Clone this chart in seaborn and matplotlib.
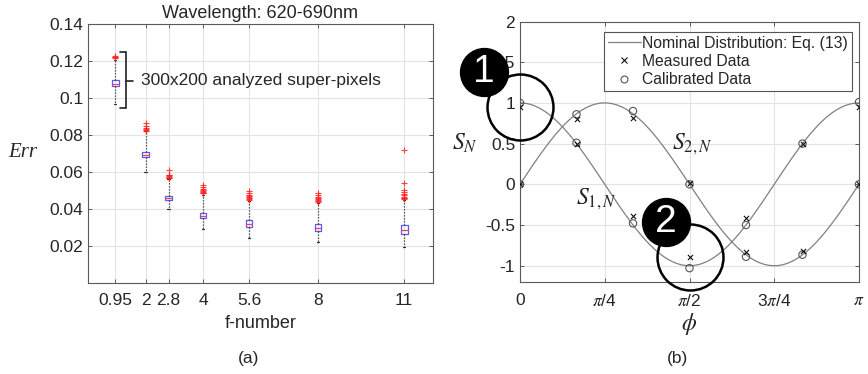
import numpy as np
import pandas as pd
import matplotlib
matplotlib.use("Agg")
import matplotlib.pyplot as plt
import matplotlib.transforms as mtransforms
from matplotlib.lines import Line2D
import seaborn as sns

# ---------------- (a) reconstruction error vs f-number ----------------
f_numbers = [0.95, 2, 2.8, 4, 5.6, 8, 11]
f_labels = ["0.95", "2", "2.8", "4", "5.6", "8", "11"]
err_whislo = [0.0966, 0.0598, 0.0400, 0.0294, 0.0245, 0.0222, 0.0196]
err_q1 = [0.1063, 0.0680, 0.0447, 0.0350, 0.0303, 0.0281, 0.0265]
err_median = [0.1075, 0.0692, 0.0458, 0.0364, 0.0319, 0.0299, 0.0286]
err_q3 = [0.1100, 0.0710, 0.0472, 0.0378, 0.0339, 0.0320, 0.0314]
err_whishi = [0.1205, 0.0820, 0.0562, 0.0478, 0.0445, 0.0435, 0.0448]
err_outliers = [
    [0.1215, 0.1220, 0.1224, 0.1228],
    [0.0824, 0.0828, 0.0832, 0.0836, 0.0849, 0.0866],
    [0.0566, 0.0570, 0.0574, 0.0578, 0.0582, 0.0586, 0.0610],
    [0.0484, 0.0489, 0.0494, 0.0499, 0.0504, 0.0510, 0.0518, 0.0528],
    [0.0450, 0.0455, 0.0460, 0.0465, 0.0470, 0.0476, 0.0484, 0.0495],
    [0.0440, 0.0445, 0.0450, 0.0455, 0.0461, 0.0467, 0.0474, 0.0484],
    [0.0452, 0.0457, 0.0462, 0.0467, 0.0473, 0.0480, 0.0490, 0.0503, 0.0539, 0.0719],
]
err_ticks = [0.02, 0.04, 0.06, 0.08, 0.10, 0.12, 0.14]
err_tick_labels = ["0.02", "0.04", "0.06", "0.08", "0.1", "0.12", "0.14"]

# ---------------- (b) normalized Stokes parameters vs phi ----------------
phi_samples = np.pi * np.array([0, 1, 2, 3, 4, 5, 6]) / 6
s1_measured = [0.95, 0.50, -0.39, -0.89, -0.41, 0.50, 0.95]
s1_calibrated = [1.00, 0.51, -0.48, -1.03, -0.50, 0.50, 1.01]
s2_measured = [0.00, 0.80, 0.82, 0.02, -0.835, -0.816, 0.00]
s2_calibrated = [0.00, 0.86, 0.90, 0.00, -0.89, -0.865, 0.00]
phi_ticks = [0, np.pi / 4, np.pi / 2, 3 * np.pi / 4, np.pi]
phi_tick_labels = ["0", r"$\pi$/4", r"$\pi$/2", r"3$\pi$/4", r"$\pi$"]
s_ticks = [-1, -0.5, 0, 0.5, 1, 1.5, 2]
s_tick_labels = ["-1", "-0.5", "0", "0.5", "1", "1.5", "2"]

# nominal distribution, Eq. (13)
phi_curve = np.linspace(0, np.pi, 400)
nominal = pd.DataFrame({"phi": phi_curve,
                        "S1": np.cos(2 * phi_curve),
                        "S2": np.sin(2 * phi_curve)})

sns.set_theme(style="whitegrid")
plt.rcParams["font.family"] = ["Liberation Sans", "DejaVu Sans"]
plt.rcParams["mathtext.fontset"] = "stix"
plt.rcParams["axes.unicode_minus"] = False

TXT = "#262626"
SPINE = "#5a5a5a"
GRID = "#e3e3e3"

fig = plt.figure(figsize=(8.68, 3.74), dpi=100)
ax_a = fig.add_axes([88 / 868, 1 - 283 / 374, 345 / 868, 259 / 374])
ax_b = fig.add_axes([520 / 868, 1 - 282 / 374, 339 / 868, 260.5 / 374])

for ax in (ax_a, ax_b):
    ax.set_facecolor("white")
    ax.grid(True, color=GRID, lw=0.8)
    for sp in ax.spines.values():
        sp.set_visible(True)
        sp.set_color(SPINE)
        sp.set_linewidth(0.8)
    ax.tick_params(direction="in", length=3, width=0.7, color=SPINE,
                   labelcolor=TXT, top=True, right=True, bottom=True, left=True,
                   labeltop=False, labelright=False)
    ax.tick_params(axis="y", pad=3.5)

# ---- panel (a) ----
stats = []
for i in range(len(f_numbers)):
    stats.append(dict(med=err_median[i], q1=err_q1[i], q3=err_q3[i],
                      whislo=err_whislo[i], whishi=err_whishi[i],
                      fliers=err_outliers[i], label=f_labels[i]))
ax_a.bxp(stats, positions=f_numbers, widths=0.24, capwidths=0.07,
         showfliers=True, manage_ticks=False, patch_artist=False,
         boxprops=dict(color="#5a5aff", lw=0.9),
         medianprops=dict(color="#ff4040", lw=0.9),
         whiskerprops=dict(color="#333333", ls=(0, (1, 1.4)), lw=0.9),
         capprops=dict(color="#333333", lw=0.9),
         flierprops=dict(marker="+", markeredgecolor="#ff2020",
                         markersize=5, mew=0.8, alpha=0.85))
ax_a.set_xlim(0, 12)
ax_a.set_ylim(0, 0.14)
ax_a.set_xticks(f_numbers)
ax_a.set_xticklabels(f_labels, fontsize=12.5)
ax_a.set_yticks(err_ticks)
ax_a.set_yticklabels(err_tick_labels, fontsize=12.5)
ax_a.tick_params(axis="x", pad=7)
ax_a.set_title("Wavelength: 620-690nm", fontsize=13, color=TXT, pad=4)
ax_a.set_xlabel("f-number", fontsize=13, color=TXT)
ax_a.xaxis.label.set_va("center")
ax_a.xaxis.set_label_coords(0.5, -0.158)
ax_a.set_ylabel("Err", fontsize=15, color=TXT, rotation=0,
                family="Liberation Serif", style="italic")
ax_a.yaxis.label.set_va("center")
ax_a.yaxis.set_label_coords(-0.188, 0.504)

# bracket marking the analysed super-pixels of the first box
br_x, br_top, br_bot, br_mid = 1.33, 0.1247, 0.0948, 0.1092
ax_a.plot([1.10, br_x, br_x, 1.10], [br_top, br_top, br_bot, br_bot],
          color="#222222", lw=1.2, solid_joinstyle="miter")
ax_a.plot([br_x, 1.55], [br_mid, br_mid], color="#222222", lw=1.2)
ax_a.text(1.85, br_mid, "300x200 analyzed super-pixels", fontsize=12.5,
          color=TXT, va="center", ha="left")

# ---- panel (b) ----
sns.lineplot(data=nominal, x="phi", y="S1", ax=ax_b, color="#808080", lw=0.9)
sns.lineplot(data=nominal, x="phi", y="S2", ax=ax_b, color="#808080", lw=0.9)
for meas, cal in ((s1_measured, s1_calibrated), (s2_measured, s2_calibrated)):
    sns.scatterplot(x=phi_samples, y=cal, ax=ax_b, marker="o", s=28,
                    facecolor="none", edgecolor="#555555", linewidth=0.8,
                    zorder=4)
    sns.scatterplot(x=phi_samples, y=meas, ax=ax_b, marker="x", s=14,
                    color="#111111", linewidth=0.8, zorder=5)

ax_b.set_xlim(0, np.pi)
ax_b.set_ylim(-1.2, 2)
ax_b.set_xticks(phi_ticks)
ax_b.set_xticklabels(phi_tick_labels, fontsize=12.5)
ax_b.set_yticks(s_ticks)
ax_b.set_yticklabels(s_tick_labels, fontsize=12.5)
ax_b.tick_params(axis="x", pad=8)
ax_b.set_xlabel(r"$\phi$", fontsize=17, color=TXT)
ax_b.xaxis.label.set_va("center")
ax_b.xaxis.set_label_coords(0.5, -0.16)
ax_b.set_ylabel(r"$S_N$", fontsize=17, color=TXT, rotation=0)
ax_b.yaxis.label.set_va("center")
ax_b.yaxis.set_label_coords(-0.162, 0.532)
ax_b.text(1.41, 0.488, r"$S_{2,N}$", fontsize=17, color=TXT, va="center", ha="left")
ax_b.text(0.52, -0.19, r"$S_{1,N}$", fontsize=17, color=TXT, va="center", ha="left")

handles = [Line2D([], [], color="#808080", lw=0.9),
           Line2D([], [], color="#111111", marker="x", ls="none", ms=4, mew=0.8),
           Line2D([], [], color="#555555", marker="o", ls="none", ms=5,
                  mfc="none", mew=0.8)]
leg = ax_b.legend(handles, ["Nominal Distribution: Eq. (13)", "Measured Data",
                            "Calibrated Data"],
                  loc="upper right", bbox_to_anchor=(0.979, 0.96),
                  borderaxespad=0, fontsize=11.3, frameon=True, fancybox=False,
                  framealpha=1, edgecolor="#555555", handlelength=2.1,
                  handletextpad=0.1, labelspacing=0.2, borderpad=0.25)
leg.get_frame().set_linewidth(0.8)
for t in leg.get_texts():
    t.set_color(TXT)

# highlighted measurement points with numbered badges
highlights = [(phi_samples[0], s1_measured[0], "1", -36, 35),
              (phi_samples[3], s1_measured[3], "2", -24, 35)]
for px, py, tag, dx, dy in highlights:
    ax_b.plot([px], [py], marker="o", ms=47.5, mfc="none", mec="black",
              mew=1.8, clip_on=False, zorder=10)
    tr = mtransforms.offset_copy(ax_b.transData, fig=fig, x=dx, y=dy,
                                 units="dots")
    ax_b.plot([px], [py], marker="o", ms=34.5, mfc="black", mec="black",
              transform=tr, clip_on=False, zorder=11)
    ax_b.text(px, py, tag, transform=tr, color="white", fontsize=28,
              ha="center", va="center", zorder=12)

fig.text(248.5 / 868, 1 - 359 / 374, "(a)", fontsize=12.5, color=TXT,
         ha="center", va="center")
fig.text(677.5 / 868, 1 - 359 / 374, "(b)", fontsize=12.5, color=TXT,
         ha="center", va="center")

fig.savefig("out.png", dpi=100)
